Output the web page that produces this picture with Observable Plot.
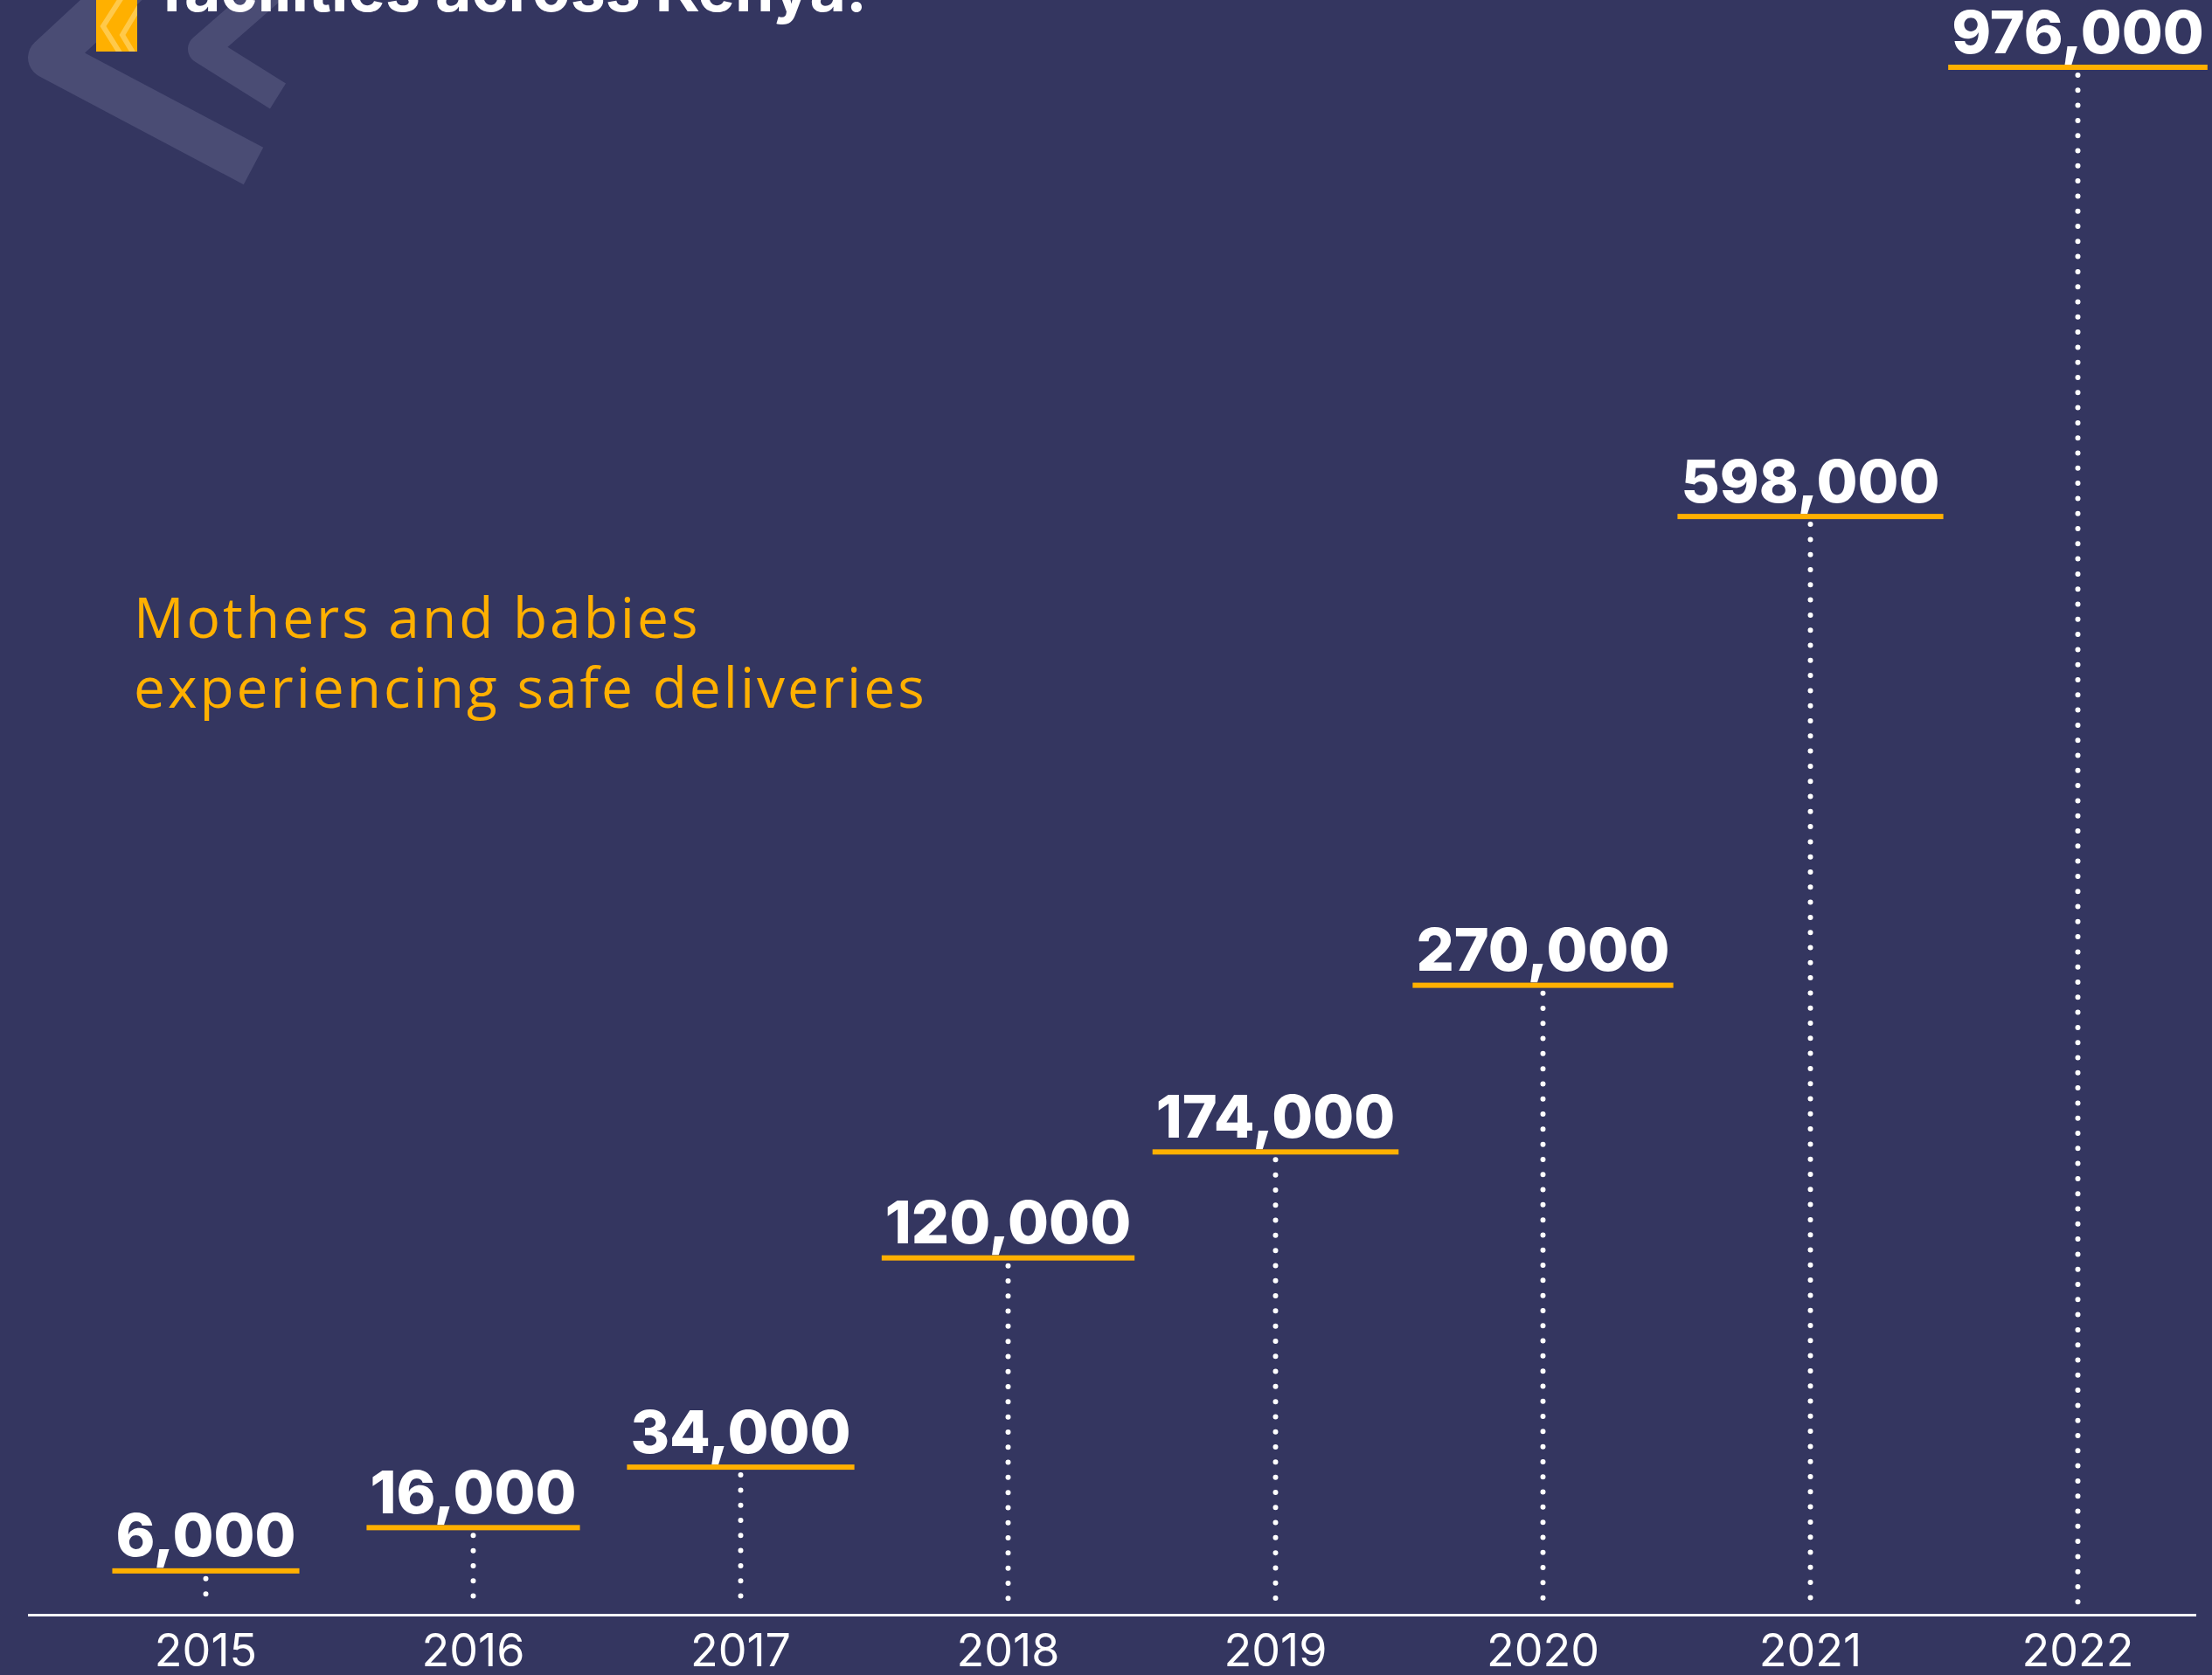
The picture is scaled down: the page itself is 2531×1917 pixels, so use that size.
<!DOCTYPE html>
<html>
<head>
<meta charset="utf-8">
<script src="https://cdn.jsdelivr.net/npm/d3@7"></script>
<script src="https://cdn.jsdelivr.net/npm/@observablehq/plot@0.6"></script>
<style>
  html, body { margin: 0; padding: 0; background: #343660; }
  #wrap { position: relative; width: 2531px; height: 1917px; overflow: hidden; background: #343660; }
  #deco, #chart, #overlay { position: absolute; left: 0; top: 0; }
</style>
</head>
<body>
<div id="wrap">
  <svg id="deco" width="2531" height="1917">
    <defs>
      <clipPath id="barclip"><rect x="110" y="-5" width="47" height="64"></rect></clipPath>
    </defs>
    <g fill="none" stroke="#4a4c74" stroke-linejoin="round" stroke-linecap="butt">
      <polyline points="165,-35 56,66 290,190" stroke-width="48"></polyline>
      <polyline points="325,-25 232,56 318,110" stroke-width="34"></polyline>
    </g>
    <rect x="110" y="-5" width="47" height="64" fill="#ffb000"></rect>
    <g clip-path="url(#barclip)" fill="none" stroke="#ffc94a" stroke-width="6">
      <polyline points="150,-20 118,30 138,62"></polyline>
      <polyline points="170,-10 140,40 158,70"></polyline>
    </g>
  </svg>
  <div id="chart"></div>
  <svg id="overlay" width="2531" height="1917">
    <text x="184" y="13" fill="#ffffff" font-family="Inter" font-weight="700" font-size="71.5">facilities across Kenya.</text>
    <text fill="#ffb000" font-family="Open Sans" font-size="64" font-weight="400" letter-spacing="3">
      <tspan x="153" y="730">Mothers and babies</tspan>
      <tspan x="153" y="810">experiencing safe deliveries</tspan>
    </text>
  </svg>
</div>
<script>
const years = ["2015", "2016", "2017", "2018", "2019", "2020", "2021", "2022"];
const deliveries = [6000, 16000, 34000, 120000, 174000, 270000, 598000, 976000];

const data = years.map((year, i) => ({year, value: deliveries[i]}));
const fmt = d3.format(",");

const chart = Plot.plot({
  width: 2531,
  height: 1917,
  marginTop: 77,
  marginBottom: 69,
  marginLeft: 32,
  marginRight: 18,
  style: {background: "transparent", color: "#ffffff", fontFamily: "Inter"},
  x: {type: "point", domain: years, padding: 0.545, align: 0.6, label: null},
  y: {type: "pow", exponent: 0.7, domain: [0, d3.max(deliveries)], axis: null},
  marks: [
    Plot.ruleX(data, {
      x: "year", y1: "value", y2: 0,
      stroke: "#ffffff", strokeWidth: 6, strokeDasharray: "0 17.3", strokeLinecap: "round",
      insetTop: 9, insetBottom: 8
    }),
    Plot.ruleY([0], {stroke: "#ffffff", strokeWidth: 3}),
    Plot.text(data, {
      x: "year", y: "value", text: d => fmt(d.value),
      lineAnchor: "bottom", dy: -17,
      fill: "#ffffff", fontSize: 68, fontWeight: 800, fontFamily: "Inter",
      className: "vlabel"
    }),
    Plot.axisX({
      tickSize: 0, tickPadding: 22, fontSize: 52, fill: "#ffffff",
      fontFamily: "Inter", label: null
    })
  ]
});

document.getElementById("chart").appendChild(chart);

// orange underline under each value label, sized from the rendered label
const yScale = chart.scale("y");
const svgRect = chart.getBoundingClientRect();
const ns = "http://www.w3.org/2000/svg";
const g = document.createElementNS(ns, "g");
chart.querySelectorAll(".vlabel text").forEach((t, k) => {
  const i = typeof t.__data__ === "number" ? t.__data__ : k;
  const r = t.getBoundingClientRect();
  const rect = document.createElementNS(ns, "rect");
  rect.setAttribute("x", r.left - svgRect.left - 4);
  rect.setAttribute("width", r.width + 8);
  rect.setAttribute("y", yScale.apply(data[i].value) - 3);
  rect.setAttribute("height", 6);
  rect.setAttribute("fill", "#ffb000");
  g.appendChild(rect);
});
chart.appendChild(g);
</script>
</body>
</html>
